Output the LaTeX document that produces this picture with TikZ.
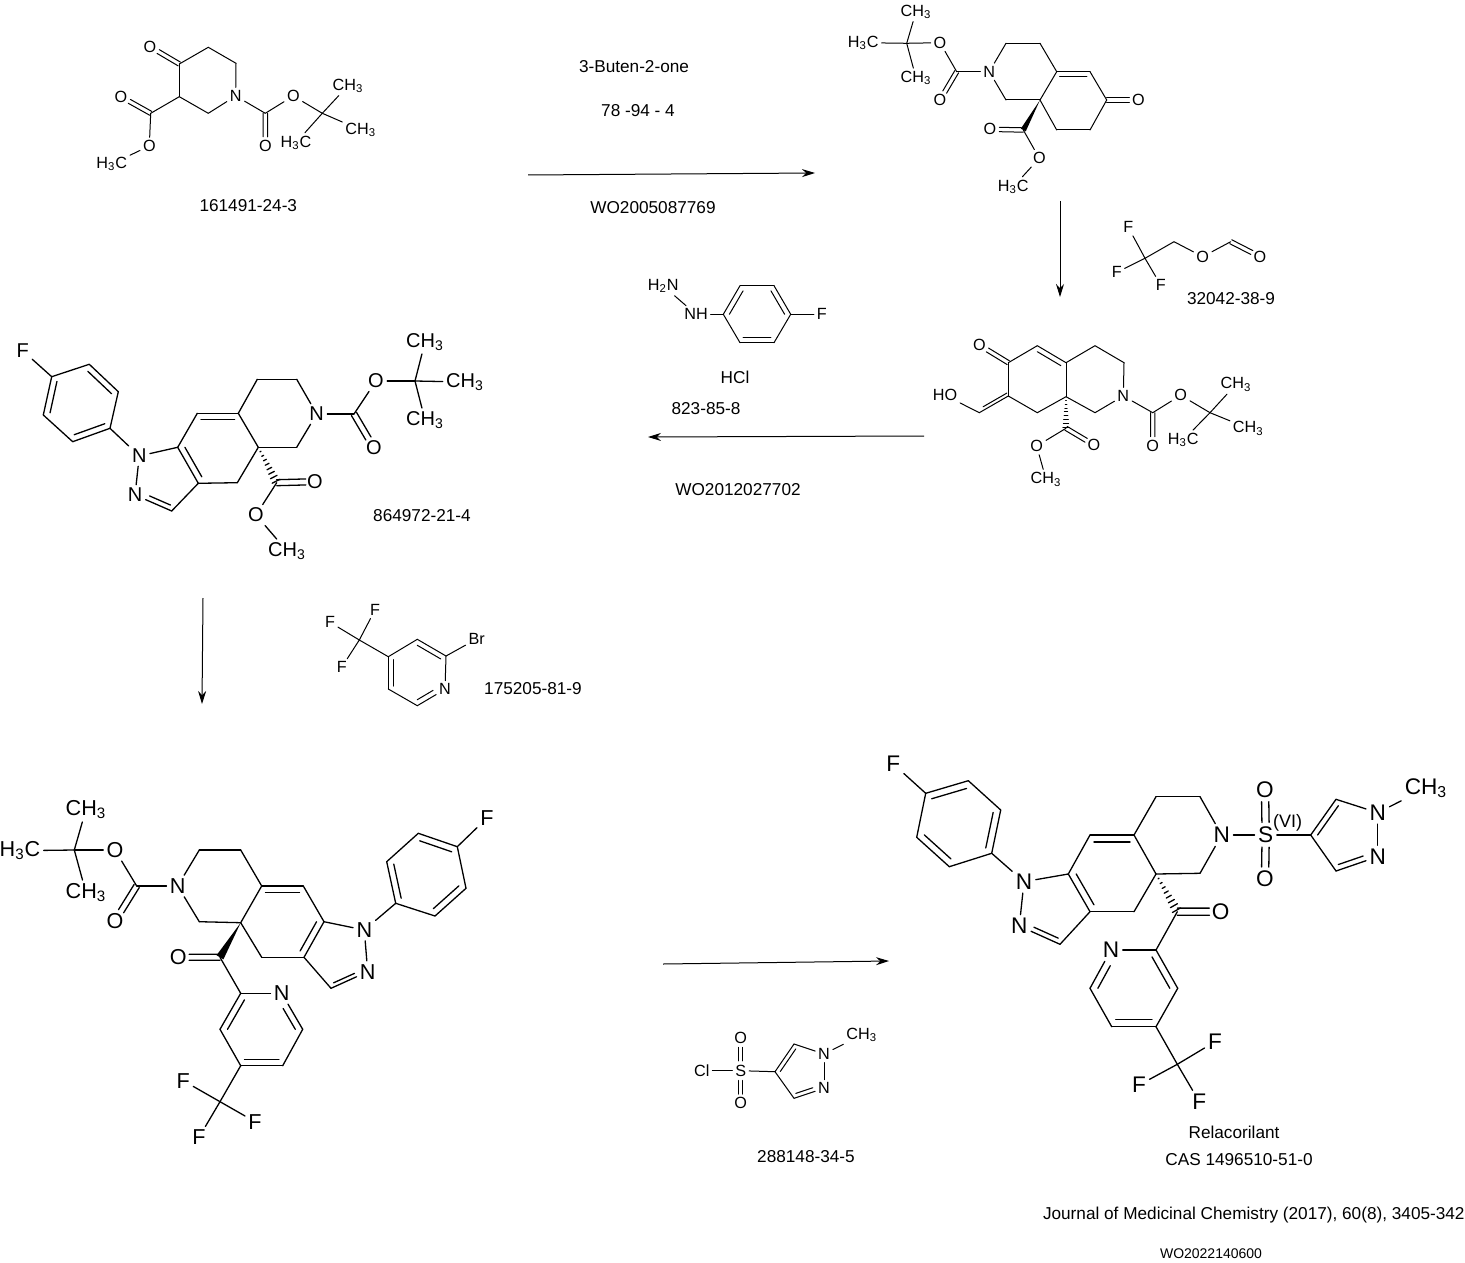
\documentclass[tikz,border=0pt]{standalone}
\usepackage{fontspec}
\setmainfont{Liberation Sans}
\usetikzlibrary{calc}
\usetikzlibrary{arrows.meta}
\def\bondgap{1.1pt}
% second line of a ring double bond, pulled towards the ring centre
\newcommand{\inbond}[4]{\draw[#1] ($(#2)!.18!(#4)$) -- ($(#3)!.18!(#4)$);}
% two lines either side of the bond axis
\newcommand{\dblbond}[5]{%
  \draw[#1] ($(#2)!#4!(#3)!\bondgap!90:(#3)$) -- ($(#2)!#5!(#3)!\bondgap!90:(#3)$);
  \draw[#1] ($(#2)!#4!(#3)!-\bondgap!90:(#3)$) -- ($(#2)!#5!(#3)!-\bondgap!90:(#3)$);}
\newcommand{\fillwedge}[3]{\fill (#1) -- ($(#2)!#3!90:(#1)$) -- ($(#2)!#3!-90:(#1)$) -- cycle;}
\newcommand{\hashwedge}[4]{%
  \foreach \hashpos in {.12,.24,.36,.48,.6,.72,.84,.96}{
    \pgfmathsetmacro{\hashw}{\hashpos*#4}
    \draw[#1] ($(#2)!\hashpos!(#3)!\hashw pt!90:(#3)$) -- ($(#2)!\hashpos!(#3)!\hashw pt!-90:(#3)$);
  }}
\begin{document}
\begin{tikzpicture}[x=0.5pt,y=-0.5pt]

  \tikzstyle{plainText} = [inner sep=0pt, yshift=-0.5pt, font=\fontsize{8.6}{10}\selectfont];
  \tikzstyle{smallAtom} = [inner sep=1.3pt, font=\fontsize{8.1}{9.6}\selectfont];
  \tikzstyle{midAtom} = [inner sep=1.5pt, font=\fontsize{10}{11}\selectfont];
  \tikzstyle{bigAtom} = [inner sep=1.5pt, font=\fontsize{10.8}{12}\selectfont];
  \tikzstyle{hugeAtom} = [inner sep=1.6pt, font=\fontsize{11.3}{13}\selectfont];

  \tikzstyle{thinEdge} = [line width=0.5pt, line cap=round];
  \tikzstyle{thickEdge} = [line width=0.65pt, line cap=round];
  \tikzstyle{reactionEdge} = [line width=0.5pt, -{Stealth[length=6.5pt,width=4pt]}];

  \useasboundingbox (0,0) rectangle (1465,1262);

  % ---- 161491-24-3
  \node[smallAtom] (aOk) at (150,46.7) {O};
  \coordinate (aC4) at (179.3,64);
  \coordinate (aC5) at (208.3,47.3);
  \coordinate (aC6) at (236,63.3);
  \node[smallAtom] (aN) at (235.7,96) {N};
  \coordinate (aC2) at (208.3,113.3);
  \coordinate (aC3) at (179.3,96.7);
  \coordinate (aEst) at (150.7,113.3);
  \node[smallAtom] (aOe) at (121,96.7) {O};
  \node[smallAtom] (aOm) at (149.3,146) {O};
  \node[smallAtom] (aMe) at (111.7,164) {H\textsubscript{3}C};
  \coordinate (aBoc) at (265.3,113.3);
  \node[smallAtom] (aObd) at (265.3,146) {O};
  \node[smallAtom] (aOb) at (293.3,96) {O};
  \coordinate (aTb) at (322.3,113.3);
  \node[smallAtom] (aMeA) at (348,85.7) {CH\textsubscript{3}};
  \node[smallAtom] (aMeB) at (360.7,130) {CH\textsubscript{3}};
  \node[smallAtom] (aMeC) at (296,142.7) {H\textsubscript{3}C};
  \node[plainText] (aCas) at (248.3,205) {161491-24-3};

  \dblbond{thinEdge}{aC4}{aOk}{0}{.72}
  \draw[thinEdge] (aC4) -- (aC5);
  \draw[thinEdge] (aC5) -- (aC6);
  \draw[thinEdge] (aC6) -- (aN);
  \draw[thinEdge] (aN) -- (aC2);
  \draw[thinEdge] (aC2) -- (aC3);
  \draw[thinEdge] (aC3) -- (aC4);
  \draw[thinEdge] (aC3) -- (aEst);
  \dblbond{thinEdge}{aEst}{aOe}{0}{.72}
  \draw[thinEdge] (aEst) -- (aOm);
  \draw[thinEdge] (aOm) -- (aMe);
  \draw[thinEdge] (aN) -- (aBoc);
  \dblbond{thinEdge}{aBoc}{aObd}{0}{.72}
  \draw[thinEdge] (aBoc) -- (aOb);
  \draw[thinEdge] (aOb) -- (aTb);
  \draw[thinEdge] (aTb) -- (aMeA);
  \draw[thinEdge] (aTb) -- (aMeB);
  \draw[thinEdge] (aTb) -- (aMeC);

  % ---- first product
  \node[smallAtom] (bMeA) at (916,11.7) {CH\textsubscript{3}};
  \coordinate (bTb) at (906.7,43.3);
  \node[smallAtom] (bMeB) at (863.3,42.7) {H\textsubscript{3}C};
  \node[smallAtom] (bMeC) at (916,78) {CH\textsubscript{3}};
  \node[smallAtom] (bOb) at (940,42.7) {O};
  \coordinate (bBoc) at (956.7,71.7);
  \node[smallAtom] (bObd) at (940,100) {O};
  \node[smallAtom] (bN) at (989.3,71.7) {N};
  \coordinate (bC3) at (1006,43.3);
  \coordinate (bC4) at (1040,43.3);
  \coordinate (bC5) at (1056.7,71.7);
  \coordinate (bC6) at (1090,71.7);
  \coordinate (bC7) at (1106.7,100);
  \node[smallAtom] (bOk) at (1138.3,100) {O};
  \coordinate (bC8) at (1090,130);
  \coordinate (bC9) at (1056.7,130);
  \coordinate (bC10) at (1040,100);
  \coordinate (bC1) at (1006,100);
  \coordinate (bEst) at (1023.3,130);
  \node[smallAtom] (bOe) at (990,129.3) {O};
  \node[smallAtom] (bOm) at (1039.3,158.3) {O};
  \node[smallAtom] (bMe) at (1013.3,186.7) {H\textsubscript{3}C};
  \coordinate (bRing) at (1073,100);

  \draw[thinEdge] (bTb) -- (bMeA);
  \draw[thinEdge] (bTb) -- (bMeB);
  \draw[thinEdge] (bTb) -- (bMeC);
  \draw[thinEdge] (bTb) -- (bOb);
  \draw[thinEdge] (bOb) -- (bBoc);
  \dblbond{thinEdge}{bBoc}{bObd}{0}{.72}
  \draw[thinEdge] (bBoc) -- (bN);
  \draw[thinEdge] (bN) -- (bC3);
  \draw[thinEdge] (bC3) -- (bC4);
  \draw[thinEdge] (bC4) -- (bC5);
  \draw[thinEdge] (bC5) -- (bC6);
  \inbond{thinEdge}{bC5}{bC6}{bRing}
  \draw[thinEdge] (bC6) -- (bC7);
  \dblbond{thinEdge}{bC7}{bOk}{0}{.72}
  \draw[thinEdge] (bC7) -- (bC8);
  \draw[thinEdge] (bC8) -- (bC9);
  \draw[thinEdge] (bC9) -- (bC10);
  \draw[thinEdge] (bC10) -- (bC5);
  \draw[thinEdge] (bC10) -- (bC1);
  \draw[thinEdge] (bC1) -- (bN);
  \fillwedge{bC10}{bEst}{1.4pt}
  \dblbond{thinEdge}{bEst}{bOe}{0}{.72}
  \draw[thinEdge] (bEst) -- (bOm);
  \draw[thinEdge] (bOm) -- (bMe);

  % ---- formylated product
  \node[smallAtom] (cOk) at (979.3,345) {O};
  \coordinate (cC6) at (1008.3,362.7);
  \coordinate (cC5) at (1037.3,345.7);
  \coordinate (cC4) at (1066,362.7);
  \coordinate (cC3) at (1095,345.7);
  \coordinate (cC2) at (1124,362.7);
  \node[smallAtom] (cN) at (1123.3,396) {N};
  \coordinate (cC1) at (1095,412.7);
  \coordinate (cC9) at (1066,396.7);
  \coordinate (cC8) at (1037.3,412.7);
  \coordinate (cC7) at (1008.3,396);
  \coordinate (cCh) at (979.3,412.7);
  \node[smallAtom] (cOh) at (945,395.3) {HO};
  \coordinate (cEst) at (1066,428.3);
  \node[smallAtom] (cOe) at (1094,445) {O};
  \node[smallAtom] (cOm) at (1036.7,446) {O};
  \node[smallAtom] (cMe) at (1046,479.3) {CH\textsubscript{3}};
  \coordinate (cBoc) at (1152.7,412.7);
  \node[smallAtom] (cObd) at (1152.7,446) {O};
  \node[smallAtom] (cOb) at (1180.7,395.3) {O};
  \coordinate (cTb) at (1210,412.7);
  \node[smallAtom] (cMeA) at (1236,384.3) {CH\textsubscript{3}};
  \node[smallAtom] (cMeB) at (1248.3,428.3) {CH\textsubscript{3}};
  \node[smallAtom] (cMeC) at (1183.3,440) {H\textsubscript{3}C};
  \coordinate (cRing) at (1037.3,379);
  \coordinate (cSide) at (1000,380);

  \dblbond{thinEdge}{cC6}{cOk}{0}{.72}
  \draw[thinEdge] (cC6) -- (cC5);
  \draw[thinEdge] (cC5) -- (cC4);
  \inbond{thinEdge}{cC5}{cC4}{cRing}
  \draw[thinEdge] (cC4) -- (cC3);
  \draw[thinEdge] (cC3) -- (cC2);
  \draw[thinEdge] (cC2) -- (cN);
  \draw[thinEdge] (cN) -- (cC1);
  \draw[thinEdge] (cC1) -- (cC9);
  \draw[thinEdge] (cC9) -- (cC4);
  \draw[thinEdge] (cC9) -- (cC8);
  \draw[thinEdge] (cC8) -- (cC7);
  \draw[thinEdge] (cC7) -- (cC6);
  \draw[thinEdge] (cC7) -- (cCh);
  \inbond{thinEdge}{cC7}{cCh}{cSide}
  \draw[thinEdge] (cCh) -- (cOh);
  \hashwedge{thinEdge}{cC9}{cEst}{1.6}
  \dblbond{thinEdge}{cEst}{cOe}{0}{.72}
  \draw[thinEdge] (cEst) -- (cOm);
  \draw[thinEdge] (cOm) -- (cMe);
  \draw[thinEdge] (cN) -- (cBoc);
  \dblbond{thinEdge}{cBoc}{cObd}{0}{.72}
  \draw[thinEdge] (cBoc) -- (cOb);
  \draw[thinEdge] (cOb) -- (cTb);
  \draw[thinEdge] (cTb) -- (cMeA);
  \draw[thinEdge] (cTb) -- (cMeB);
  \draw[thinEdge] (cTb) -- (cMeC);

  % ---- 864972-21-4
  \def\bondgap{1.5pt}
  \node[midAtom] (dF) at (22.7,350.7) {F};
  \coordinate (dP1) at (51.7,376.7);
  \coordinate (dP2) at (89.3,364.3);
  \coordinate (dP3) at (118.3,391.7);
  \coordinate (dP4) at (110,428.3);
  \coordinate (dP5) at (72.7,441.7);
  \coordinate (dP6) at (43.3,415);
  \coordinate (dArom) at (80.8,403);
  \node[midAtom] (dNa) at (139.3,456) {N};
  \node[midAtom] (dNb) at (135,495) {N};
  \coordinate (dC3) at (171.7,511);
  \coordinate (dC3a) at (198.3,483.3);
  \coordinate (dC7a) at (177.7,447.3);
  \coordinate (dC7) at (197.3,413.3);
  \coordinate (dC6) at (238.3,413.3);
  \coordinate (dQ) at (258.3,447.3);
  \coordinate (dC4) at (237.3,482.7);
  \coordinate (dC5) at (257.3,379.3);
  \coordinate (dC8) at (296.7,379.3);
  \node[midAtom] (dN) at (316.7,414) {N};
  \coordinate (dC9) at (296.7,447.3);
  \coordinate (dBoc) at (354,414);
  \node[midAtom] (dObd) at (374,448) {O};
  \node[midAtom] (dOb) at (376,381) {O};
  \coordinate (dTb) at (415,381);
  \node[midAtom] (dMeA) at (425,342) {CH\textsubscript{3}};
  \node[midAtom] (dMeB) at (465,382) {CH\textsubscript{3}};
  \node[midAtom] (dMeC) at (425,420) {CH\textsubscript{3}};
  \coordinate (dEst) at (276.7,482.7);
  \node[midAtom] (dOe) at (315,481.7) {O};
  \node[midAtom] (dOm) at (256,515) {O};
  \node[midAtom] (dMe) at (287,551) {CH\textsubscript{3}};
  \coordinate (dHex) at (217.8,447.3);
  \coordinate (dPyr) at (165,478);
  \node[plainText] (dCas) at (422,515) {864972-21-4};

  \draw[thickEdge] (dF) -- (dP1);
  \draw[thickEdge] (dP1) -- (dP2);
  \draw[thickEdge] (dP2) -- (dP3);
  \inbond{thickEdge}{dP2}{dP3}{dArom}
  \draw[thickEdge] (dP3) -- (dP4);
  \draw[thickEdge] (dP4) -- (dP5);
  \inbond{thickEdge}{dP4}{dP5}{dArom}
  \draw[thickEdge] (dP5) -- (dP6);
  \draw[thickEdge] (dP6) -- (dP1);
  \inbond{thickEdge}{dP6}{dP1}{dArom}
  \draw[thickEdge] (dP4) -- (dNa);
  \draw[thickEdge] (dNa) -- (dNb);
  \draw[thickEdge] (dNb) -- (dC3);
  \inbond{thickEdge,shorten <=5pt}{dNb}{dC3}{dPyr}
  \draw[thickEdge] (dC3) -- (dC3a);
  \draw[thickEdge] (dC3a) -- (dC7a);
  \inbond{thickEdge}{dC3a}{dC7a}{dHex}
  \draw[thickEdge] (dC7a) -- (dNa);
  \draw[thickEdge] (dC7a) -- (dC7);
  \draw[thickEdge] (dC7) -- (dC6);
  \inbond{thickEdge}{dC7}{dC6}{dHex}
  \draw[thickEdge] (dC6) -- (dQ);
  \draw[thickEdge] (dQ) -- (dC4);
  \draw[thickEdge] (dC4) -- (dC3a);
  \draw[thickEdge] (dC6) -- (dC5);
  \draw[thickEdge] (dC5) -- (dC8);
  \draw[thickEdge] (dC8) -- (dN);
  \draw[thickEdge] (dN) -- (dC9);
  \draw[thickEdge] (dC9) -- (dQ);
  \draw[thickEdge] (dN) -- (dBoc);
  \dblbond{thickEdge}{dBoc}{dObd}{0}{.72}
  \draw[thickEdge] (dBoc) -- (dOb);
  \draw[thickEdge] (dOb) -- (dTb);
  \draw[thickEdge] (dTb) -- (dMeA);
  \draw[thickEdge] (dTb) -- (dMeB);
  \draw[thickEdge] (dTb) -- (dMeC);
  \hashwedge{thickEdge}{dQ}{dEst}{2.2}
  \dblbond{thickEdge}{dEst}{dOe}{0}{.76}
  \draw[thickEdge] (dEst) -- (dOm);
  \draw[thickEdge] (dOm) -- (dMe);

  % ---- acylated product
  \node[bigAtom] (eMeA) at (86,809.3) {CH\textsubscript{3}};
  \coordinate (eTb) at (74.3,850);
  \node[bigAtom] (eMeB) at (20,850.7) {H\textsubscript{3}C};
  \node[bigAtom] (eMeC) at (86,892.7) {CH\textsubscript{3}};
  \node[bigAtom] (eOb) at (115,850) {O};
  \coordinate (eBoc) at (136.7,886);
  \node[bigAtom] (eObd) at (115,921) {O};
  \node[bigAtom] (eN) at (177.7,886) {N};
  \coordinate (eC3) at (199.3,850);
  \coordinate (eC4) at (240.7,850);
  \coordinate (eC5) at (261.7,886);
  \coordinate (eC6) at (303.3,886);
  \coordinate (eC7) at (324,921.7);
  \node[bigAtom] (eNa) at (364.3,930) {N};
  \node[bigAtom] (eNb) at (367.7,971.7) {N};
  \coordinate (eC11) at (331,988.3);
  \coordinate (eC8) at (304,957.3);
  \coordinate (eC9) at (261.7,957.3);
  \coordinate (eQ) at (240.7,922.7);
  \coordinate (eC1) at (199.3,921.7);
  \coordinate (eCo) at (220,957.3);
  \node[bigAtom] (eOk) at (178.3,957.3) {O};
  \coordinate (eY2) at (240.7,993.3);
  \node[bigAtom] (eYn) at (281.7,993.3) {N};
  \coordinate (eY6) at (302.7,1029.3);
  \coordinate (eY5) at (282.7,1065.7);
  \coordinate (eY4) at (240.7,1065.7);
  \coordinate (eY3) at (220,1029.3);
  \coordinate (eCf) at (220,1101.7);
  \node[bigAtom] (eFa) at (183.3,1080.7) {F};
  \node[bigAtom] (eFb) at (255,1121.7) {F};
  \node[bigAtom] (eFc) at (199,1137.3) {F};
  \coordinate (eP1) at (395.7,903.3);
  \coordinate (eP2) at (386.7,861.7);
  \coordinate (eP3) at (418.3,833.3);
  \coordinate (eP4) at (457.3,846.7);
  \coordinate (eP5) at (466,888.3);
  \coordinate (eP6) at (435,916);
  \node[bigAtom] (eF) at (487,818) {F};
  \coordinate (eHex) at (282.5,922);
  \coordinate (ePyr) at (345,958);
  \coordinate (eYc) at (261.7,1029.5);
  \coordinate (eArom) at (426,875);

  \draw[thickEdge] (eTb) -- (eMeA);
  \draw[thickEdge] (eTb) -- (eMeB);
  \draw[thickEdge] (eTb) -- (eMeC);
  \draw[thickEdge] (eTb) -- (eOb);
  \draw[thickEdge] (eOb) -- (eBoc);
  \dblbond{thickEdge}{eBoc}{eObd}{0}{.72}
  \draw[thickEdge] (eBoc) -- (eN);
  \draw[thickEdge] (eN) -- (eC3);
  \draw[thickEdge] (eC3) -- (eC4);
  \draw[thickEdge] (eC4) -- (eC5);
  \draw[thickEdge] (eC5) -- (eC6);
  \inbond{thickEdge}{eC5}{eC6}{eHex}
  \draw[thickEdge] (eC6) -- (eC7);
  \draw[thickEdge] (eC7) -- (eNa);
  \draw[thickEdge] (eNa) -- (eNb);
  \draw[thickEdge] (eNb) -- (eC11);
  \inbond{thickEdge,shorten <=5pt}{eNb}{eC11}{ePyr}
  \draw[thickEdge] (eC11) -- (eC8);
  \draw[thickEdge] (eC8) -- (eC7);
  \inbond{thickEdge}{eC8}{eC7}{eHex}
  \draw[thickEdge] (eC8) -- (eC9);
  \draw[thickEdge] (eC9) -- (eQ);
  \draw[thickEdge] (eQ) -- (eC5);
  \draw[thickEdge] (eQ) -- (eC1);
  \draw[thickEdge] (eC1) -- (eN);
  \fillwedge{eQ}{eCo}{2pt}
  \dblbond{thickEdge}{eCo}{eOk}{0}{.74}
  \draw[thickEdge] (eCo) -- (eY2);
  \draw[thickEdge] (eY2) -- (eYn);
  \draw[thickEdge] (eYn) -- (eY6);
  \inbond{thickEdge,shorten <=5pt}{eYn}{eY6}{eYc}
  \draw[thickEdge] (eY6) -- (eY5);
  \draw[thickEdge] (eY5) -- (eY4);
  \inbond{thickEdge}{eY5}{eY4}{eYc}
  \draw[thickEdge] (eY4) -- (eY3);
  \draw[thickEdge] (eY3) -- (eY2);
  \inbond{thickEdge}{eY3}{eY2}{eYc}
  \draw[thickEdge] (eY4) -- (eCf);
  \draw[thickEdge] (eCf) -- (eFa);
  \draw[thickEdge] (eCf) -- (eFb);
  \draw[thickEdge] (eCf) -- (eFc);
  \draw[thickEdge] (eNa) -- (eP1);
  \draw[thickEdge] (eP1) -- (eP2);
  \inbond{thickEdge}{eP1}{eP2}{eArom}
  \draw[thickEdge] (eP2) -- (eP3);
  \draw[thickEdge] (eP3) -- (eP4);
  \inbond{thickEdge}{eP3}{eP4}{eArom}
  \draw[thickEdge] (eP4) -- (eP5);
  \draw[thickEdge] (eP5) -- (eP6);
  \inbond{thickEdge}{eP5}{eP6}{eArom}
  \draw[thickEdge] (eP6) -- (eP1);
  \draw[thickEdge] (eP4) -- (eF);

  % ---- Relacorilant
  \def\bondgap{1.8pt}
  \node[hugeAtom] (fF) at (893.3,764) {F};
  \coordinate (fP1) at (925.7,793.3);
  \coordinate (fP2) at (968.3,780.7);
  \coordinate (fP3) at (1000.7,810);
  \coordinate (fP4) at (991.7,853.3);
  \coordinate (fP5) at (949.3,866.7);
  \coordinate (fP6) at (916.7,837.3);
  \coordinate (fArom) at (958.7,823.7);
  \node[hugeAtom] (fNa) at (1024,881.7) {N};
  \node[hugeAtom] (fNb) at (1019.3,926) {N};
  \coordinate (fC3) at (1060,944.3);
  \coordinate (fC3a) at (1090,911.7);
  \coordinate (fC7a) at (1068.3,874);
  \coordinate (fC7) at (1090,835);
  \coordinate (fC6) at (1134,835);
  \coordinate (fQ) at (1156,874);
  \coordinate (fC4) at (1134,911.7);
  \coordinate (fC5) at (1156,796.7);
  \coordinate (fC8) at (1200,796.7);
  \node[hugeAtom] (fN) at (1221.7,835) {N};
  \coordinate (fC9) at (1200,873.3);
  \node[hugeAtom] (fS) at (1265.7,835) {S};
  \node[smallAtom, font=\fontsize{9}{11}\selectfont, inner sep=0pt] (fVi) at (1287.7,822.7) {(VI)};
  \node[hugeAtom] (fOa) at (1265,790) {O};
  \node[hugeAtom] (fOb) at (1265,878.3) {O};
  \coordinate (fZ4) at (1310.7,835);
  \coordinate (fZ5) at (1336,799.3);
  \node[hugeAtom] (fZa) at (1377.7,812.7) {N};
  \node[hugeAtom] (fZb) at (1377.7,856.7) {N};
  \coordinate (fZ3) at (1336,871);
  \node[hugeAtom] (fMe) at (1426,788.3) {CH\textsubscript{3}};
  \coordinate (fCo) at (1177.3,911.7);
  \node[hugeAtom] (fOk) at (1220.7,911.7) {O};
  \coordinate (fY2) at (1156,950);
  \node[hugeAtom] (fYn) at (1111,950) {N};
  \coordinate (fY6) at (1090,988.3);
  \coordinate (fY5) at (1111.7,1026.7);
  \coordinate (fY4) at (1156,1026.7);
  \coordinate (fY3) at (1177.7,988.3);
  \coordinate (fCf) at (1177.3,1064.3);
  \node[hugeAtom] (fFa) at (1215,1041.7) {F};
  \node[hugeAtom] (fFb) at (1139,1085) {F};
  \node[hugeAtom] (fFc) at (1199.3,1101.7) {F};
  \coordinate (fHex) at (1112,873.5);
  \coordinate (fPyr) at (1050,910);
  \coordinate (fYc) at (1133.8,988.3);
  \coordinate (fZc) at (1349,835);
  \node[plainText] (fName) at (1234,1131) {Relacorilant};
  \node[plainText] (fCas) at (1239,1159) {CAS 1496510-51-0};

  \draw[thickEdge] (fF) -- (fP1);
  \draw[thickEdge] (fP1) -- (fP2);
  \inbond{thickEdge}{fP1}{fP2}{fArom}
  \draw[thickEdge] (fP2) -- (fP3);
  \draw[thickEdge] (fP3) -- (fP4);
  \inbond{thickEdge}{fP3}{fP4}{fArom}
  \draw[thickEdge] (fP4) -- (fP5);
  \draw[thickEdge] (fP5) -- (fP6);
  \inbond{thickEdge}{fP5}{fP6}{fArom}
  \draw[thickEdge] (fP6) -- (fP1);
  \draw[thickEdge] (fP4) -- (fNa);
  \draw[thickEdge] (fNa) -- (fNb);
  \draw[thickEdge] (fNb) -- (fC3);
  \inbond{thickEdge,shorten <=5pt}{fNb}{fC3}{fPyr}
  \draw[thickEdge] (fC3) -- (fC3a);
  \draw[thickEdge] (fC3a) -- (fC7a);
  \inbond{thickEdge}{fC3a}{fC7a}{fHex}
  \draw[thickEdge] (fC7a) -- (fNa);
  \draw[thickEdge] (fC7a) -- (fC7);
  \draw[thickEdge] (fC7) -- (fC6);
  \inbond{thickEdge}{fC7}{fC6}{fHex}
  \draw[thickEdge] (fC6) -- (fQ);
  \draw[thickEdge] (fQ) -- (fC4);
  \draw[thickEdge] (fC4) -- (fC3a);
  \draw[thickEdge] (fC6) -- (fC5);
  \draw[thickEdge] (fC5) -- (fC8);
  \draw[thickEdge] (fC8) -- (fN);
  \draw[thickEdge] (fN) -- (fC9);
  \draw[thickEdge] (fC9) -- (fQ);
  \draw[thickEdge] (fN) -- (fS);
  \dblbond{thickEdge}{fS}{fOa}{.28}{.74}
  \dblbond{thickEdge}{fS}{fOb}{.28}{.74}
  \draw[thickEdge] (fS) -- (fZ4);
  \draw[thickEdge] (fZ4) -- (fZ5);
  \inbond{thickEdge}{fZ4}{fZ5}{fZc}
  \draw[thickEdge] (fZ5) -- (fZa);
  \draw[thickEdge] (fZa) -- (fZb);
  \draw[thickEdge] (fZb) -- (fZ3);
  \inbond{thickEdge,shorten <=5pt}{fZb}{fZ3}{fZc}
  \draw[thickEdge] (fZ3) -- (fZ4);
  \draw[thickEdge] (fZa) -- (fMe);
  \hashwedge{thickEdge}{fQ}{fCo}{2.4}
  \dblbond{thickEdge}{fCo}{fOk}{0}{.74}
  \draw[thickEdge] (fCo) -- (fY2);
  \draw[thickEdge] (fY2) -- (fYn);
  \draw[thickEdge] (fYn) -- (fY6);
  \inbond{thickEdge,shorten <=5pt}{fYn}{fY6}{fYc}
  \draw[thickEdge] (fY6) -- (fY5);
  \draw[thickEdge] (fY5) -- (fY4);
  \inbond{thickEdge}{fY5}{fY4}{fYc}
  \draw[thickEdge] (fY4) -- (fY3);
  \draw[thickEdge] (fY3) -- (fY2);
  \inbond{thickEdge}{fY3}{fY2}{fYc}
  \draw[thickEdge] (fY4) -- (fCf);
  \draw[thickEdge] (fCf) -- (fFa);
  \draw[thickEdge] (fCf) -- (fFb);
  \draw[thickEdge] (fCf) -- (fFc);

  % ---- hydrazine reagent
  \def\bondgap{1.1pt}
  \node[smallAtom] (hNa) at (663.3,286) {H\textsubscript{2}N};
  \node[smallAtom] (hNb) at (696,314.3) {NH};
  \coordinate (hP1) at (723.3,314.3);
  \coordinate (hP2) at (740,285.7);
  \coordinate (hP3) at (774,285.7);
  \coordinate (hP4) at (790.7,314.3);
  \coordinate (hP5) at (774,342.7);
  \coordinate (hP6) at (740,342.7);
  \coordinate (hArom) at (757,314.3);
  \node[smallAtom] (hF) at (821.7,314.3) {F};
  \node[plainText] (hSalt) at (735,376) {HCl};
  \node[plainText] (hCas) at (706,408) {823-85-8};
  \node[plainText] (hRef) at (738,489) {WO2012027702};

  \draw[thinEdge] (hNa) -- (hNb);
  \draw[thinEdge] (hNb) -- (hP1);
  \draw[thinEdge] (hP1) -- (hP2);
  \inbond{thinEdge}{hP1}{hP2}{hArom}
  \draw[thinEdge] (hP2) -- (hP3);
  \draw[thinEdge] (hP3) -- (hP4);
  \inbond{thinEdge}{hP3}{hP4}{hArom}
  \draw[thinEdge] (hP4) -- (hP5);
  \draw[thinEdge] (hP5) -- (hP6);
  \inbond{thinEdge}{hP5}{hP6}{hArom}
  \draw[thinEdge] (hP6) -- (hP1);
  \draw[thinEdge] (hP4) -- (hF);

  % ---- formate reagent
  \node[smallAtom] (tFa) at (1128.3,227.3) {F};
  \coordinate (tCf) at (1145,258.3);
  \node[smallAtom] (tFb) at (1116.7,272.3) {F};
  \node[smallAtom] (tFc) at (1160.7,285) {F};
  \coordinate (tCh) at (1174,241.7);
  \node[smallAtom] (tO) at (1202.7,256.7) {O};
  \coordinate (tCo) at (1230.7,241.7);
  \node[smallAtom] (tOk) at (1260,256.7) {O};
  \node[plainText] (tCas) at (1231,297.7) {32042-38-9};

  \draw[thinEdge] (tCf) -- (tFa);
  \draw[thinEdge] (tCf) -- (tFb);
  \draw[thinEdge] (tCf) -- (tFc);
  \draw[thinEdge] (tCf) -- (tCh);
  \draw[thinEdge] (tCh) -- (tO);
  \draw[thinEdge] (tO) -- (tCo);
  \dblbond{thinEdge}{tCo}{tOk}{0}{.72}

  % ---- bromopyridine reagent
  \node[smallAtom] (pFa) at (375,610) {F};
  \node[smallAtom] (pFb) at (330,622.3) {F};
  \node[smallAtom] (pFc) at (341.7,667.3) {F};
  \coordinate (pCf) at (359.3,640);
  \coordinate (pC4) at (388.3,656.7);
  \coordinate (pC3) at (417.3,639.3);
  \coordinate (pC2) at (446,656);
  \node[smallAtom] (pBr) at (476.7,639) {Br};
  \node[smallAtom] (pN) at (445,689.3) {N};
  \coordinate (pC6) at (417.3,705.7);
  \coordinate (pC5) at (388.3,689);
  \coordinate (pRing) at (417,672.5);
  \node[plainText] (pCas) at (533,688) {175205-81-9};

  \draw[thinEdge] (pCf) -- (pFa);
  \draw[thinEdge] (pCf) -- (pFb);
  \draw[thinEdge] (pCf) -- (pFc);
  \draw[thinEdge] (pCf) -- (pC4);
  \draw[thinEdge] (pC4) -- (pC3);
  \draw[thinEdge] (pC3) -- (pC2);
  \inbond{thinEdge}{pC3}{pC2}{pRing}
  \draw[thinEdge] (pC2) -- (pBr);
  \draw[thinEdge] (pC2) -- (pN);
  \draw[thinEdge] (pN) -- (pC6);
  \inbond{thinEdge,shorten <=4pt}{pN}{pC6}{pRing}
  \draw[thinEdge] (pC6) -- (pC5);
  \draw[thinEdge] (pC5) -- (pC4);
  \inbond{thinEdge}{pC5}{pC4}{pRing}

  % ---- sulfonyl chloride reagent
  \node[smallAtom] (sCl) at (701.7,1070.7) {Cl};
  \node[smallAtom] (sS) at (740.7,1070.7) {S};
  \node[smallAtom] (sOa) at (740.7,1038.3) {O};
  \node[smallAtom] (sOb) at (740.7,1103.3) {O};
  \coordinate (sC4) at (775,1071.7);
  \coordinate (sC5) at (794,1044);
  \node[smallAtom] (sNa) at (824,1054) {N};
  \node[smallAtom] (sNb) at (824,1088.3) {N};
  \coordinate (sC3) at (794,1098.3);
  \coordinate (sRing) at (804,1071);
  \node[smallAtom] (sMe) at (861.7,1035) {CH\textsubscript{3}};
  \node[plainText] (sCas) at (806,1156) {288148-34-5};

  \draw[thinEdge] (sCl) -- (sS);
  \dblbond{thinEdge}{sS}{sOa}{.3}{.72}
  \dblbond{thinEdge}{sS}{sOb}{.3}{.72}
  \draw[thinEdge] (sS) -- (sC4);
  \draw[thinEdge] (sC4) -- (sC5);
  \inbond{thinEdge}{sC4}{sC5}{sRing}
  \draw[thinEdge] (sC5) -- (sNa);
  \draw[thinEdge] (sNa) -- (sNb);
  \draw[thinEdge] (sNb) -- (sC3);
  \inbond{thinEdge,shorten <=4pt}{sNb}{sC3}{sRing}
  \draw[thinEdge] (sC3) -- (sC4);
  \draw[thinEdge] (sNa) -- (sMe);

  % ---- remaining labels
  \node[plainText] (butenone) at (634,66) {3-Buten-2-one};
  \node[plainText] (butenoneCas) at (638,110) {78 -94 - 4};
  \node[plainText] (patentA) at (653,207) {WO2005087769};
  \node[plainText, anchor=east] (journal) at (1465,1214) {Journal of Medicinal Chemistry (2017), 60(8), 3405-342};
  \node[plainText, font=\fontsize{7}{9}\selectfont] (patentB) at (1211,1253) {WO2022140600};

  % ---- reaction arrows
  \coordinate (arrowAs) at (528,175);
  \coordinate (arrowAe) at (815,173);
  \coordinate (arrowBs) at (1060,201);
  \coordinate (arrowBe) at (1060,297);
  \coordinate (arrowCs) at (924,436);
  \coordinate (arrowCe) at (648,437);
  \coordinate (arrowDs) at (203,598);
  \coordinate (arrowDe) at (202,704);
  \coordinate (arrowEs) at (663,964);
  \coordinate (arrowEe) at (889,961);

  \draw[reactionEdge] (arrowAs) -- (arrowAe);
  \draw[reactionEdge] (arrowBs) -- (arrowBe);
  \draw[reactionEdge] (arrowCs) -- (arrowCe);
  \draw[reactionEdge] (arrowDs) -- (arrowDe);
  \draw[reactionEdge] (arrowEs) -- (arrowEe);

\end{tikzpicture}
\end{document}
